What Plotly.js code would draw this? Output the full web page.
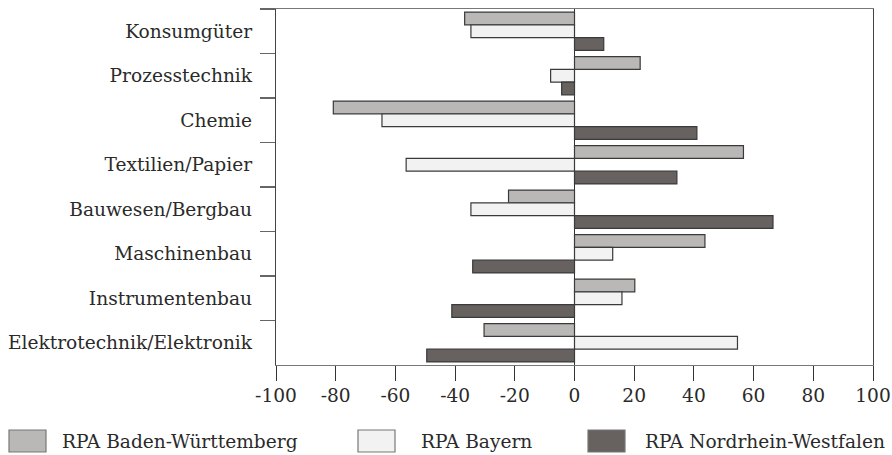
<!DOCTYPE html>
<html>
<head>
<meta charset="utf-8">
<script src="https://cdn.plot.ly/plotly-3.0.1.min.js"></script>
<style>html,body{margin:0;padding:0;background:#fff;}#chart{width:892px;height:455px;}</style>
</head>
<body>
<div id="chart"></div>
<script>
var categories = ["Konsumgüter","Prozesstechnik","Chemie","Textilien/Papier","Bauwesen/Bergbau","Maschinenbau","Instrumentenbau","Elektrotechnik/Elektronik"];
var seriesNames = ["RPA Baden-Württemberg","RPA Bayern","RPA Nordrhein-Westfalen"];
var badenWuerttemberg = [-36.8, 22.0, -80.8, 56.6, -22.1, 43.7, 20.2, -30.3];
var bayern = [-34.7, -8.0, -64.5, -56.4, -34.7, 12.8, 15.9, 54.6];
var nordrheinWestfalen = [9.8, -4.3, 41.0, 34.3, 66.5, -34.1, -41.1, -49.5];
var xTickValues = [-100,-80,-60,-40,-20,0,20,40,60,80,100];

var colors = ["#b9b8b6", "#f2f2f2", "#676260"];
var seriesValues = [badenWuerttemberg, bayern, nordrheinWestfalen];

var W = 892, H = 455, mL = 276, mR = 19, mT = 9, mB = 90;
var pw = W - mL - mR, ph = H - mT - mB;
function px(x){ return (x - mL) / pw; }
function py(y){ return (H - mB - y) / ph; }

var traces = seriesValues.map(function(vals, i){
  return {
    type: 'bar', orientation: 'h', name: seriesNames[i],
    x: vals, y: categories,
    marker: {color: colors[i], line: {color: '#3a3a3a', width: 1.2}},
    hoverinfo: 'x+y'
  };
});

var font = {family: '"DejaVu Serif", "Liberation Serif", serif', size: 18.6, color: '#2a2a2a'};

var shapes = [], annotations = [];
var boxX = [9, 358, 588], textX = [60, 419, 643];
for (var i = 0; i < 3; i++) {
  shapes.push({type: 'rect', xref: 'paper', yref: 'paper',
    x0: px(boxX[i]), x1: px(boxX[i] + 37), y0: py(452), y1: py(430),
    fillcolor: colors[i], line: {color: '#777', width: 1.2}});
  annotations.push({xref: 'paper', yref: 'paper', x: px(textX[i]), y: py(441),
    xanchor: 'left', yanchor: 'middle', showarrow: false, text: seriesNames[i], font: font});
}

var layout = {
  width: W, height: H,
  margin: {l: mL, r: mR, t: mT, b: mB, pad: 0},
  paper_bgcolor: '#fff', plot_bgcolor: '#fff',
  barmode: 'group', bargap: 0.14, bargroupgap: 0,
  showlegend: false,
  font: font,
  xaxis: {
    range: [-100, 100], tickvals: xTickValues, ticktext: xTickValues.map(String),
    ticks: 'outside', ticklen: 15, tickcolor: '#333', tickwidth: 1,
    showline: true, linecolor: '#777', linewidth: 1.2, mirror: true,
    showgrid: false, zeroline: true, zerolinecolor: '#333', zerolinewidth: 1,
    tickfont: font, ticklabelstandoff: -2, fixedrange: true
  },
  yaxis: {
    type: 'category', categoryorder: 'array', categoryarray: categories,
    autorange: 'reversed',
    ticks: 'outside', tickson: 'boundaries', ticklen: 15, tickcolor: '#666', tickwidth: 1.2,
    showline: true, linecolor: '#444', linewidth: 1.2, mirror: true,
    showgrid: false, tickfont: font, ticklabelstandoff: 19, fixedrange: true
  },
  shapes: shapes,
  annotations: annotations
};

Plotly.newPlot('chart', traces, layout, {displayModeBar: false, staticPlot: true});
</script>
</body>
</html>
